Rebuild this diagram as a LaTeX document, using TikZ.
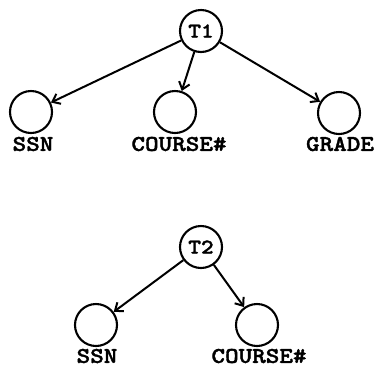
\documentclass[tikz,border=0pt]{standalone}
\usepackage{fontspec}
% heavy typewriter face for table names and attribute labels
\newfontfamily\typer{lmmonolt10-bold}[Extension=.otf, FakeStretch=1.15, FakeBold=1.6]
\usetikzlibrary{arrows.meta}
\begin{document}
\begin{tikzpicture}[x=1pt,y=-1pt,
  attr/.style={circle,draw,line width=2.1pt,minimum size=42pt,inner sep=0pt},
  tbl/.style={attr,font=\typer\fontsize{21}{21}\selectfont},
  lbl/.style={font=\typer\fontsize{22.5}{22.5}\selectfont,inner sep=0pt},
  link/.style={line width=2pt,-{Straight Barb[length=7pt,width=11pt,line width=2pt]}}]
\useasboundingbox (0,0) rectangle (382,368);
% first table and its attributes
\node[tbl] (t1) at (201,31) {T1};
\node[attr] (a1) at (31,112) {};
\node[attr] (a2) at (175,112) {};
\node[attr] (a3) at (339,113) {};
\node[lbl] (l1) at (33,144) {SSN};
\node[lbl] (l2) at (179,144) {COURSE\#};
\node[lbl] (l3) at (340,144) {GRADE};
\draw[link] (t1) -- (a1);
\draw[link] (t1) -- (a2);
\draw[link] (t1) -- (a3);
% second table and its attributes
\node[tbl] (t2) at (201,247) {T2};
\node[attr] (b1) at (96,325) {};
\node[attr] (b2) at (257,325) {};
\node[lbl] (m1) at (97,356) {SSN};
\node[lbl] (m2) at (259,356) {COURSE\#};
\draw[link] (t2) -- (b1);
\draw[link] (t2) -- (b2);
\end{tikzpicture}
\end{document}
